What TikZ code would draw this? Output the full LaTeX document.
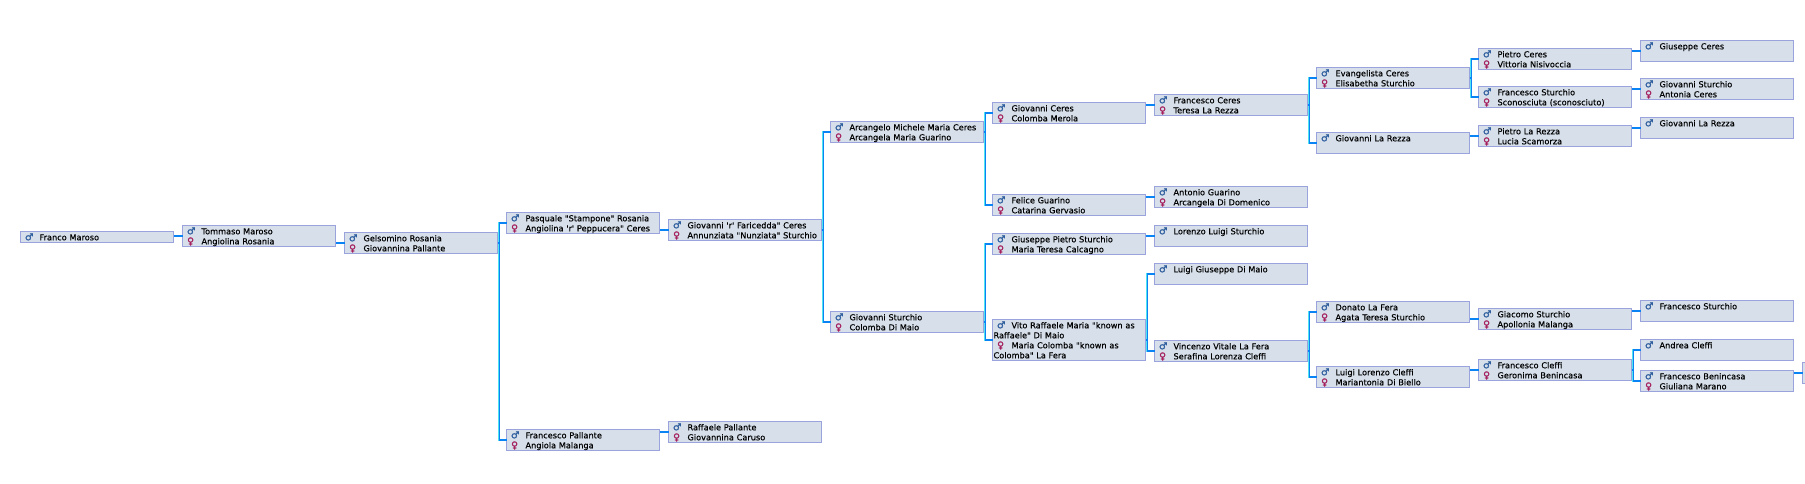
\documentclass[tikz,border=0pt]{standalone}
\usepackage{fontspec}
\newfontfamily\pf{DejaVu Sans}[WordSpace=1.7,FakeBold=0.25]
\newfontfamily\pfi{DejaVu Sans}[FakeBold=1.6]
\definecolor{boxfill}{HTML}{D6DFEA}
\definecolor{boxline}{HTML}{9AA3DC}
\definecolor{mblue}{HTML}{2F5E9E}
\definecolor{fpink}{HTML}{A5205F}
\definecolor{linkblue}{HTML}{0A84F5}
\definecolor{linkcyan}{HTML}{50E4F0}
\newcommand{\Mm}{\makebox[18pt][l]{\hspace{3.4pt}\textcolor{mblue}{\pfi\fontsize{9.5}{10}\selectfont ♂}}}
\newcommand{\Ff}{\makebox[18pt][l]{\hspace{3.6pt}\textcolor{fpink}{\pfi\fontsize{9.5}{10}\selectfont ♀}}}
\tikzset{
  pbox/.style={anchor=north west,draw=boxline,fill=boxfill,line width=1pt,outer sep=0pt,
    inner xsep=1pt,inner ysep=0pt,text width=151pt,align=left,
    font=\pf\fontsize{8.2}{10}\selectfont,text=black,text height=8.8pt,text depth=12.2pt},
  onerow/.style={text depth=2.2pt},
  fourrow/.style={text depth=32.2pt},
  link/.style={linkblue,line width=1.2pt},
  fringe/.style={linkcyan,line width=1.2pt},
}
\newcommand{\onelink}[2]{\draw[fringe,transform canvas={yshift=0.5pt}] (#2.west) -- (#2.west -| #1.east);
  \draw[link] (#2.west) -- (#2.west -| #1.east);}
\newcommand{\twolink}[3]{\path (#1.east) -- ++(1.8pt,0) coordinate (e#1);
  \draw[fringe,transform canvas={xshift=-0.6pt,yshift=0.5pt}] (#2.west) -| (e#1) |- (#3.west);
  \draw[fringe,transform canvas={xshift=-0.6pt,yshift=-0.5pt}] (#2.west) -| (e#1) |- (#3.west);
  \draw[link] (#1.east) -- (e#1);
  \draw[link] (#2.west) -| (e#1) |- (#3.west);}
\begin{document}
\begin{tikzpicture}[x=1pt,y=-1pt]
\useasboundingbox (0,0) rectangle (1805,483);
\node[pbox,onerow] (franco) at (20.5,231.5) {\Mm Franco Maroso};
\node[pbox] (tommaso) at (182.5,225.5) {\Mm Tommaso Maroso\\\Ff Angiolina Rosania};
\node[pbox] (gelsomino) at (344.5,232.5) {\Mm Gelsomino Rosania\\\Ff Giovannina Pallante};
\node[pbox] (pasquale) at (506.5,212.5) {\Mm Pasquale "Stampone" Rosania\\\Ff Angiolina 'r' Peppucera" Ceres};
\node[pbox] (fpallante) at (506.5,429.5) {\Mm Francesco Pallante\\\Ff Angiola Malanga};
\node[pbox] (faricedda) at (668.5,219.5) {\Mm Giovanni 'r' Faricedda" Ceres\\\Ff Annunziata "Nunziata" Sturchio};
\node[pbox] (raffaele) at (668.5,421.5) {\Mm Raffaele Pallante\\\Ff Giovannina Caruso};
\node[pbox] (arcangelo) at (830.5,121.5) {\Mm Arcangelo Michele Maria Ceres\\\Ff Arcangela Maria Guarino};
\node[pbox] (gsturchio) at (830.5,311.5) {\Mm Giovanni Sturchio\\\Ff Colomba Di Maio};
\node[pbox] (gceres) at (992.5,102.5) {\Mm Giovanni Ceres\\\Ff Colomba Merola};
\node[pbox] (felice) at (992.5,194.5) {\Mm Felice Guarino\\\Ff Catarina Gervasio};
\node[pbox] (gpietro) at (992.5,233.5) {\Mm Giuseppe Pietro Sturchio\\\Ff Maria Teresa Calcagno};
\node[pbox,fourrow] (vito) at (992.5,319.5) {\Mm Vito Raffaele Maria "known as\\Raffaele" Di Maio\\\Ff Maria Colomba "known as\\Colomba" La Fera};
\node[pbox] (fceres) at (1154.5,94.5) {\Mm Francesco Ceres\\\Ff Teresa La Rezza};
\node[pbox] (antonio) at (1154.5,186.5) {\Mm Antonio Guarino\\\Ff Arcangela Di Domenico};
\node[pbox] (lorenzo) at (1154.5,225.5) {\Mm Lorenzo Luigi Sturchio};
\node[pbox] (lgiuseppe) at (1154.5,263.5) {\Mm Luigi Giuseppe Di Maio};
\node[pbox] (vincenzo) at (1154.5,340.5) {\Mm Vincenzo Vitale La Fera\\\Ff Serafina Lorenza Cleffi};
\node[pbox] (evangelista) at (1316.5,67.5) {\Mm Evangelista Ceres\\\Ff Elisabetha Sturchio};
\node[pbox] (glarezza) at (1316.5,132.5) {\Mm Giovanni La Rezza};
\node[pbox] (donato) at (1316.5,301.5) {\Mm Donato La Fera\\\Ff Agata Teresa Sturchio};
\node[pbox] (llorenzo) at (1316.5,366.5) {\Mm Luigi Lorenzo Cleffi\\\Ff Mariantonia Di Biello};
\node[pbox] (pceres) at (1478.5,48.5) {\Mm Pietro Ceres\\\Ff Vittoria Nisivoccia};
\node[pbox] (fsturchio) at (1478.5,86.5) {\Mm Francesco Sturchio\\\Ff Sconosciuta (sconosciuto)};
\node[pbox] (plarezza) at (1478.5,125.5) {\Mm Pietro La Rezza\\\Ff Lucia Scamorza};
\node[pbox] (giacomo) at (1478.5,308.5) {\Mm Giacomo Sturchio\\\Ff Apollonia Malanga};
\node[pbox] (fcleffi) at (1478.5,359.5) {\Mm Francesco Cleffi\\\Ff Geronima Benincasa};
\node[pbox] (gpceres) at (1640.5,40.5) {\Mm Giuseppe Ceres};
\node[pbox] (gs2) at (1640.5,78.5) {\Mm Giovanni Sturchio\\\Ff Antonia Ceres};
\node[pbox] (glr2) at (1640.5,117.5) {\Mm Giovanni La Rezza};
\node[pbox] (fs2) at (1640.5,300.5) {\Mm Francesco Sturchio};
\node[pbox] (andrea) at (1640.5,339.5) {\Mm Andrea Cleffi};
\node[pbox] (benincasa) at (1640.5,370.5) {\Mm Francesco Benincasa\\\Ff Giuliana Marano};
\node[pbox] (last) at (1802.5,362.5) {};
\onelink{franco}{tommaso}
\onelink{tommaso}{gelsomino}
\twolink{gelsomino}{pasquale}{fpallante}
\onelink{pasquale}{faricedda}
\onelink{fpallante}{raffaele}
\twolink{faricedda}{arcangelo}{gsturchio}
\twolink{arcangelo}{gceres}{felice}
\twolink{gsturchio}{gpietro}{vito}
\onelink{gceres}{fceres}
\onelink{felice}{antonio}
\onelink{gpietro}{lorenzo}
\twolink{vito}{lgiuseppe}{vincenzo}
\twolink{fceres}{evangelista}{glarezza}
\twolink{vincenzo}{donato}{llorenzo}
\twolink{evangelista}{pceres}{fsturchio}
\onelink{glarezza}{plarezza}
\onelink{donato}{giacomo}
\onelink{llorenzo}{fcleffi}
\onelink{pceres}{gpceres}
\onelink{fsturchio}{gs2}
\onelink{plarezza}{glr2}
\onelink{giacomo}{fs2}
\twolink{fcleffi}{andrea}{benincasa}
\onelink{benincasa}{last}
\end{tikzpicture}
\end{document}
